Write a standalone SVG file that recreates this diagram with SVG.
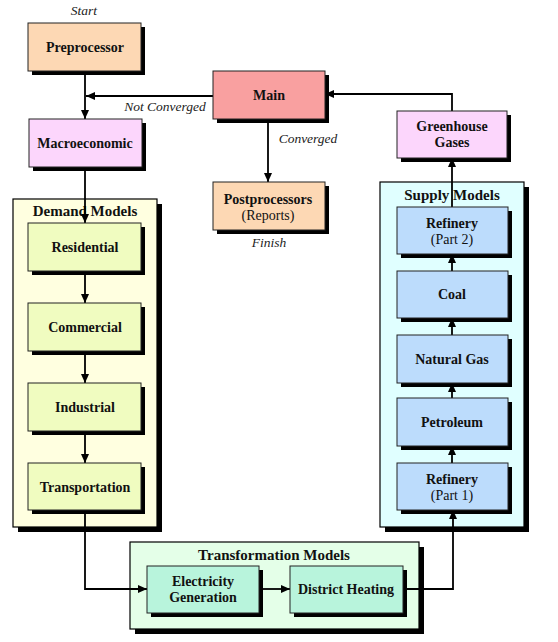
<svg xmlns="http://www.w3.org/2000/svg" width="558" height="642" viewBox="0 0 558 642">
<defs>
<style>
.box{stroke:#222;stroke-width:1}
.sh{fill:#000}
.t{font-family:"Liberation Serif","Times New Roman",serif;font-size:14px;font-weight:bold;fill:#111;text-anchor:middle}
.h{font-family:"Liberation Serif","Times New Roman",serif;font-size:15px;font-weight:bold;fill:#111;text-anchor:middle}
.n{font-family:"Liberation Serif","Times New Roman",serif;font-size:14px;fill:#111;text-anchor:middle}
.i{font-family:"Liberation Serif","Times New Roman",serif;font-size:13.5px;font-style:italic;fill:#222;text-anchor:middle}
.c{fill:none;stroke:#000;stroke-width:1.8}
</style>
<marker id="ah" viewBox="0 0 10 10" refX="10" refY="5" markerWidth="9" markerHeight="8" orient="auto" markerUnits="userSpaceOnUse" preserveAspectRatio="none">
<path d="M0,0 L10,5 L0,10 z" fill="#000"/>
</marker>
</defs>
<rect width="558" height="642" fill="#fff"/>

<g id="demand-models">
<rect class="sh" x="18" y="204" width="144" height="328"/>
<rect x="13" y="199" width="144" height="328" fill="#ffffe0" stroke="#000" stroke-width="1.2"/>
<text class="h" x="85" y="216">Demand Models</text>
</g>
<g id="supply-models">
<rect class="sh" x="385" y="187" width="144" height="345"/>
<rect x="380" y="182" width="144" height="345" fill="#e0ffff" stroke="#000" stroke-width="1.2"/>
<text class="h" x="452" y="200">Supply Models</text>
</g>
<g id="transformation-models">
<rect class="sh" x="135" y="547" width="289" height="87"/>
<rect x="130" y="542" width="289" height="87" fill="#e4ffe8" stroke="#000" stroke-width="1.2"/>
<text class="h" x="274" y="560">Transformation Models</text>
</g>

<g id="connectors">
<line class="c" x1="85" y1="71" x2="85" y2="119" marker-end="url(#ah)"/>
<line class="c" x1="213" y1="96" x2="86" y2="96" marker-end="url(#ah)"/>
<line class="c" x1="268" y1="119" x2="268" y2="182" marker-end="url(#ah)"/>
<polyline class="c" points="452,111 452,94 325,94" marker-end="url(#ah)"/>
<line class="c" x1="85" y1="167" x2="85" y2="223" marker-end="url(#ah)"/>
<line class="c" x1="85" y1="271" x2="85" y2="303" marker-end="url(#ah)"/>
<line class="c" x1="85" y1="351" x2="85" y2="383" marker-end="url(#ah)"/>
<line class="c" x1="85" y1="431" x2="85" y2="463" marker-end="url(#ah)"/>
<polyline class="c" points="85,510 85,589 147,589" marker-end="url(#ah)"/>
<line class="c" x1="259" y1="589" x2="290" y2="589" marker-end="url(#ah)"/>
<polyline class="c" points="403,589 453,589 453,510" marker-end="url(#ah)"/>
<line class="c" x1="452" y1="463" x2="452" y2="446" marker-end="url(#ah)"/>
<line class="c" x1="452" y1="398" x2="452" y2="383" marker-end="url(#ah)"/>
<line class="c" x1="452" y1="335" x2="452" y2="318" marker-end="url(#ah)"/>
<line class="c" x1="452" y1="271" x2="452" y2="254" marker-end="url(#ah)"/>
<line class="c" x1="452" y1="207" x2="452" y2="158" marker-end="url(#ah)"/>
<text class="i" x="165" y="111">Not Converged</text>
<text class="i" x="308" y="143">Converged</text>
<text class="i" x="84" y="15">Start</text>
<text class="i" x="269" y="247">Finish</text>
</g>

<g id="preprocessor">
<rect class="sh" x="32" y="27" width="113" height="48"/>
<rect class="box" x="28" y="23" width="113" height="48" fill="#fdd8b4"/>
<text class="t" x="85" y="52">Preprocessor</text>
</g>
<g id="macroeconomic">
<rect class="sh" x="33" y="123" width="113" height="48"/>
<rect class="box" x="29" y="119" width="113" height="48" fill="#fcd6fc"/>
<text class="t" x="85" y="148">Macroeconomic</text>
</g>
<g id="main">
<rect class="sh" x="217" y="75" width="112" height="48"/>
<rect class="box" x="213" y="71" width="112" height="48" fill="#f9a0a0"/>
<text class="t" x="269" y="100">Main</text>
</g>
<g id="postprocessors">
<rect class="sh" x="217" y="186" width="112" height="48"/>
<rect class="box" x="213" y="182" width="112" height="48" fill="#fdd8b4"/>
<text class="t" x="268" y="204">Postprocessors</text>
<text class="n" x="268" y="220">(Reports)</text>
</g>
<g id="greenhouse-gases">
<rect class="sh" x="401" y="115" width="110" height="47"/>
<rect class="box" x="397" y="111" width="110" height="47" fill="#fcd6fc"/>
<text class="t" x="452" y="131">Greenhouse</text>
<text class="t" x="452" y="147">Gases</text>
</g>

<g id="residential">
<rect class="sh" x="32" y="227" width="113" height="48"/>
<rect class="box" x="28" y="223" width="113" height="48" fill="#f0fcc0"/>
<text class="t" x="85" y="252">Residential</text>
</g>
<g id="commercial">
<rect class="sh" x="32" y="307" width="113" height="48"/>
<rect class="box" x="28" y="303" width="113" height="48" fill="#f0fcc0"/>
<text class="t" x="85" y="332">Commercial</text>
</g>
<g id="industrial">
<rect class="sh" x="32" y="387" width="113" height="48"/>
<rect class="box" x="28" y="383" width="113" height="48" fill="#f0fcc0"/>
<text class="t" x="85" y="412">Industrial</text>
</g>
<g id="transportation">
<rect class="sh" x="32" y="467" width="113" height="47"/>
<rect class="box" x="28" y="463" width="113" height="47" fill="#f0fcc0"/>
<text class="t" x="85" y="492">Transportation</text>
</g>

<g id="refinery-part2">
<rect class="sh" x="401" y="211" width="111" height="47"/>
<rect class="box" x="397" y="207" width="111" height="47" fill="#bcdcfc"/>
<text class="t" x="452" y="228">Refinery</text>
<text class="n" x="452" y="244">(Part 2)</text>
</g>
<g id="coal">
<rect class="sh" x="401" y="275" width="111" height="47"/>
<rect class="box" x="397" y="271" width="111" height="47" fill="#bcdcfc"/>
<text class="t" x="452" y="299">Coal</text>
</g>
<g id="natural-gas">
<rect class="sh" x="401" y="339" width="111" height="48"/>
<rect class="box" x="397" y="335" width="111" height="48" fill="#bcdcfc"/>
<text class="t" x="452" y="364">Natural Gas</text>
</g>
<g id="petroleum">
<rect class="sh" x="401" y="402" width="111" height="48"/>
<rect class="box" x="397" y="398" width="111" height="48" fill="#bcdcfc"/>
<text class="t" x="452" y="427">Petroleum</text>
</g>
<g id="refinery-part1">
<rect class="sh" x="401" y="467" width="111" height="47"/>
<rect class="box" x="397" y="463" width="111" height="47" fill="#bcdcfc"/>
<text class="t" x="452" y="484">Refinery</text>
<text class="n" x="452" y="500">(Part 1)</text>
</g>

<g id="electricity-generation">
<rect class="sh" x="151" y="570" width="112" height="47"/>
<rect class="box" x="147" y="566" width="112" height="47" fill="#b8f4dc"/>
<text class="t" x="203" y="586">Electricity</text>
<text class="t" x="203" y="602">Generation</text>
</g>
<g id="district-heating">
<rect class="sh" x="294" y="570" width="113" height="47"/>
<rect class="box" x="290" y="566" width="113" height="47" fill="#b8f4dc"/>
<text class="t" x="346" y="594">District Heating</text>
</g>
</svg>
